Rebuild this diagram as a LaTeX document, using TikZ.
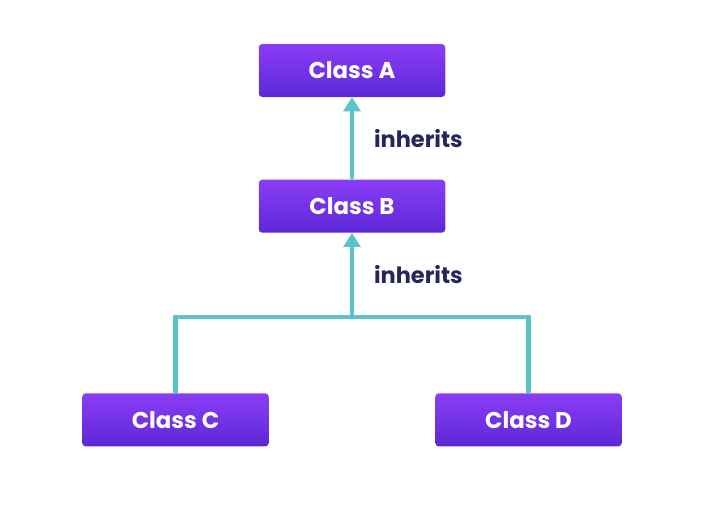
\documentclass[tikz,border=0pt]{standalone}
\usepackage{fontspec}
\setmainfont{Poppins}
\usepackage{tikz}
\usetikzlibrary{arrows.meta,positioning}
\definecolor{grape}{HTML}{8A3DF6}
\definecolor{grapedark}{HTML}{5C28D6}
\definecolor{teal}{HTML}{5BC4C8}
\definecolor{ink}{HTML}{25265E}
\tikzset{
  classbox/.style={
    rectangle, rounded corners=2pt, draw=none,
    top color=grape, bottom color=grapedark,
    minimum width=3.73cm, minimum height=1.06cm,
    font=\fontsize{13}{15}\selectfont\bfseries, text=white,
    inner sep=2pt
  },
  linkline/.style={
    line width=2.3pt, color=teal
  },
  inheritarrow/.style={
    linkline, -{Triangle[length=0.28cm, width=0.34cm]}
  },
  labelnode/.style={
    font=\fontsize{12.8}{15}\selectfont\bfseries, text=ink,
    anchor=west, inner sep=0pt
  },
}
\begin{document}
\begin{tikzpicture}
  \useasboundingbox (0,0) rectangle (14.48,-10.12);
  \node[classbox] (a) at (7.04,-1.41) {Class A};
  \node[classbox, below=1.64cm of a] (b) {Class B};
  \node[classbox, below=3.2cm of b, xshift=-3.53cm] (c) {Class C};
  \node[classbox, below=3.2cm of b, xshift=3.53cm] (d) {Class D};

  \coordinate[below=1.68cm of b] (join);

  \draw[inheritarrow] (b) -- (a)
    node[midway, labelnode, xshift=0.4cm] {inherits};
  \draw[inheritarrow] (join) -- (b)
    node[midway, labelnode, xshift=0.4cm] {inherits};
  \draw[linkline] (c.north) |- (join) -| (d.north);
\end{tikzpicture}
\end{document}
